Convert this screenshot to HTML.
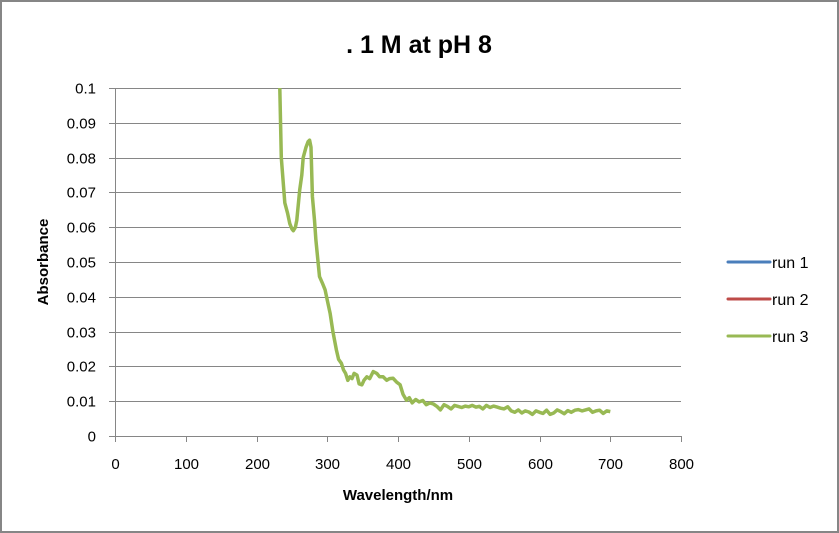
<!DOCTYPE html>
<html><head><meta charset="utf-8"><style>
html,body{margin:0;padding:0;background:#fff}
svg{display:block;font-family:"Liberation Sans",Arial,sans-serif}
</style></head><body>
<svg id="chart" width="839" height="533">
<rect x="1" y="1" width="837" height="531" fill="#fff" stroke="#868686" stroke-width="2"/>
<text x="419" y="53" font-size="25" font-weight="bold" text-anchor="middle">. 1 M at pH 8</text>
<g id="grid"></g>
<g id="axes"></g>
<text x="48" y="262" font-size="15" font-weight="bold" text-anchor="middle" transform="rotate(-90 48 262)">Absorbance</text>
<text x="398" y="500" font-size="15" font-weight="bold" text-anchor="middle">Wavelength/nm</text>
<g id="series"></g>
<g id="legend"></g>
</svg>
<script>
const xTicks=[0,100,200,300,400,500,600,700,800];
const yTicks=[0,0.01,0.02,0.03,0.04,0.05,0.06,0.07,0.08,0.09,0.1];
const yTickLabels=["0","0.01","0.02","0.03","0.04","0.05","0.06","0.07","0.08","0.09","0.1"];
const seriesNames=["run 1","run 2","run 3"];
const seriesColors=["#4a7ebb","#be4b48","#98b954"];
const run3Wavelength=[233,235,240,244,247,250,252,255,257,261,264,266,270,273,275,277,279,282,284,289,293,297,300,304,308,313,316,320,323,326,329,332,335,338,342,345,349,352,356,360,365,370,374,379,384,388,393,398,403,407,412,416,420,425,430,435,440,445,450,455,460,465,470,475,480,485,490,495,500,505,510,515,520,525,530,535,540,545,550,555,560,565,570,575,580,585,590,595,600,605,610,615,620,625,630,635,640,645,650,655,660,665,670,675,680,685,690,695,700];
const run3Abs=[0.1,0.08,0.067,0.064,0.061,0.0595,0.059,0.06,0.062,0.0707,0.075,0.08,0.083,0.0846,0.085,0.083,0.0688,0.062,0.0563,0.0458,0.044,0.042,0.039,0.0353,0.03,0.0247,0.022,0.0209,0.019,0.018,0.016,0.017,0.0165,0.018,0.0175,0.015,0.0147,0.016,0.017,0.0165,0.0185,0.018,0.017,0.017,0.016,0.0165,0.0166,0.0155,0.0147,0.012,0.0103,0.011,0.0095,0.0105,0.0098,0.0102,0.009,0.0095,0.0092,0.0085,0.0075,0.009,0.0085,0.0078,0.0088,0.0085,0.0082,0.0086,0.0084,0.0088,0.0083,0.0085,0.0078,0.0088,0.0082,0.0086,0.0083,0.008,0.0078,0.0084,0.0072,0.0068,0.0075,0.0066,0.0072,0.0069,0.0062,0.0072,0.0068,0.0065,0.0074,0.0062,0.0066,0.0075,0.007,0.0064,0.0073,0.0068,0.0074,0.0076,0.0072,0.0075,0.0078,0.0068,0.0072,0.0074,0.0065,0.0072,0.007];
const X0=115,X1=681,Y0=436,Y1=88;
const xs=v=>X0+(v-0)/(800-0)*(X1-X0);
const ys=v=>Y0-(v-0)/(0.1-0)*(Y0-Y1);
const NS="http://www.w3.org/2000/svg";
function mk(tag,attrs,parent){const e=document.createElementNS(NS,tag);for(const k in attrs)e.setAttribute(k,attrs[k]);parent.appendChild(e);return e;}
const grid=document.getElementById('grid'),axes=document.getElementById('axes'),series=document.getElementById('series'),legend=document.getElementById('legend');
yTicks.forEach((t,i)=>{
  const y=Math.round(ys(t))+0.5;
  if(t>0){const g=mk('line',{x1:X0,x2:X1,y1:y,y2:y,stroke:'#868686','stroke-width':1},grid);
  
  }
  const tk=mk('line',{x1:X0-6,x2:X0,y1:y,y2:y,stroke:'#868686'},axes);
  
  
  const tx=mk('text',{x:96,y:y+5,'font-size':15,'text-anchor':'end'},axes);tx.textContent=yTickLabels[i];
  
  
});
xTicks.forEach(t=>{
  const x=Math.round(xs(t))+0.5;
  const tk=mk('line',{x1:x,x2:x,y1:Y0,y2:Y0+6,stroke:'#868686'},axes);
  
  
  const tx=mk('text',{x:x,y:469,'font-size':15,'text-anchor':'middle'},axes);tx.textContent=String(t);
  
  
});
const ya=mk('line',{x1:X0+0.5,x2:X0+0.5,y1:Y1,y2:Y0,stroke:'#868686'},axes);


const xa=mk('line',{x1:X0,x2:X1,y1:Y0+0.5,y2:Y0+0.5,stroke:'#868686'},axes);


const pts=run3Wavelength.map((w,i)=>xs(w).toFixed(1)+','+ys(run3Abs[i]).toFixed(1)).join(' ');
const pl=mk('polyline',{points:pts,fill:'none',stroke:seriesColors[2],'stroke-width':3.5,'stroke-linejoin':'round'},series);


seriesNames.forEach((n,i)=>{
  const y=262+i*37;
  const l=mk('line',{x1:728,x2:770,y1:y,y2:y,stroke:seriesColors[i],'stroke-width':3,'stroke-linecap':'round'},legend);
  
  
  const t=mk('text',{x:772,y:y+6,'font-size':16},legend);t.textContent=n;
  
  
});
</script>
</body></html>
